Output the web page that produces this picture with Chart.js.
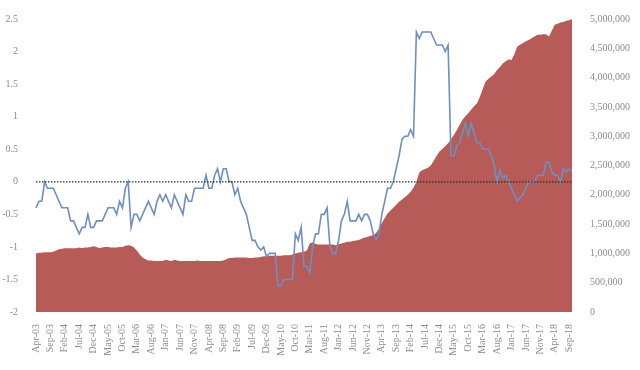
<!DOCTYPE html>
<html>
<head>
<meta charset="utf-8">
<script src="https://cdn.jsdelivr.net/npm/chart.js@4/dist/chart.umd.min.js"></script>
<style>
  html, body { margin: 0; padding: 0; background: #fff; }
  #wrap { width: 640px; height: 370px; }
</style>
</head>
<body>
<div id="wrap"><canvas id="myChart" width="640" height="370"></canvas></div>
<script>
// monthly data, Apr-03 .. Oct-18
var monthNames = ["Jan", "Feb", "Mar", "Apr", "May", "Jun", "Jul", "Aug", "Sep", "Oct", "Nov", "Dec"];
var startYear = 2003;
var startMonth = 3; // Apr
var labelEvery = 5;

// left axis series (blue line)
var spread = [
  -0.4, -0.3, -0.3, 0.0, -0.1, -0.1, -0.1, -0.2, -0.3, -0.4,
  -0.4, -0.4, -0.6, -0.6, -0.7, -0.8, -0.7, -0.7, -0.5, -0.7,
  -0.7, -0.6, -0.6, -0.6, -0.5, -0.4, -0.4, -0.4, -0.5, -0.3,
  -0.4, -0.1, 0.0, -0.7, -0.5, -0.5, -0.6, -0.5, -0.4, -0.3,
  -0.4, -0.5, -0.3, -0.2, -0.3, -0.2, -0.3, -0.4, -0.2, -0.3,
  -0.4, -0.5, -0.2, -0.3, -0.3, -0.1, -0.1, -0.1, -0.1, 0.1,
  -0.1, -0.1, 0.1, 0.2, 0.0, 0.2, 0.2, 0.0, 0.0, -0.2,
  -0.1, -0.3, -0.4, -0.5, -0.7, -0.9, -0.9, -1.0, -1.05, -1.0,
  -1.15, -1.1, -1.1, -1.1, -1.6, -1.6, -1.5, -1.5, -1.5, -1.5,
  -0.8, -0.9, -0.7, -1.3, -1.3, -1.4, -1.0, -0.8, -0.8, -0.5,
  -0.5, -0.4, -1.0, -1.1, -1.1, -0.9, -0.6, -0.5, -0.3, -0.6,
  -0.6, -0.6, -0.5, -0.6, -0.5, -0.5, -0.6, -0.8, -0.9, -0.8,
  -0.5, -0.3, -0.1, -0.1, 0.0, 0.2, 0.4, 0.65, 0.7, 0.7,
  0.8, 0.7, 2.3, 2.2, 2.3, 2.3, 2.3, 2.3, 2.2, 2.1,
  2.1, 2.1, 2.0, 2.1, 0.4, 0.4, 0.55, 0.6, 0.75, 0.9,
  0.7, 0.9, 0.75, 0.6, 0.6, 0.5, 0.5, 0.5, 0.4, 0.25,
  0.0, 0.18, 0.05, 0.1, 0.0, -0.1, -0.2, -0.3, -0.25, -0.2,
  -0.1, 0.0, 0.0, 0.0, 0.1, 0.1, 0.1, 0.3, 0.3, 0.15,
  0.1, 0.1, 0.0, 0.2, 0.15, 0.2, 0.15
];

// right axis series (red area), in millions
var holdings = [
  1.00, 1.01, 1.01, 1.02, 1.02, 1.02, 1.03, 1.05, 1.07, 1.08,
  1.09, 1.09, 1.09, 1.09, 1.09, 1.10, 1.09, 1.10, 1.10, 1.11,
  1.12, 1.11, 1.09, 1.10, 1.11, 1.11, 1.10, 1.10, 1.10, 1.11,
  1.11, 1.13, 1.14, 1.13, 1.10, 1.05, 0.98, 0.93, 0.90, 0.88,
  0.88, 0.87, 0.87, 0.87, 0.87, 0.89, 0.88, 0.87, 0.89, 0.88,
  0.87, 0.87, 0.87, 0.87, 0.87, 0.87, 0.88, 0.87, 0.87, 0.87,
  0.87, 0.87, 0.87, 0.87, 0.87, 0.88, 0.90, 0.92, 0.92, 0.93,
  0.93, 0.93, 0.93, 0.93, 0.92, 0.92, 0.93, 0.93, 0.94, 0.95,
  0.95, 0.96, 0.96, 0.96, 0.96, 0.96, 0.97, 0.97, 0.97, 0.98,
  1.00, 1.01, 1.02, 1.03, 1.05, 1.17, 1.19, 1.16, 1.15, 1.15,
  1.15, 1.15, 1.15, 1.15, 1.14, 1.16, 1.17, 1.18, 1.20, 1.20,
  1.21, 1.22, 1.23, 1.25, 1.27, 1.28, 1.30, 1.31, 1.35, 1.42,
  1.52, 1.60, 1.68, 1.73, 1.78, 1.83, 1.88, 1.92, 1.96, 2.00,
  2.05, 2.12, 2.22, 2.38, 2.42, 2.44, 2.46, 2.50, 2.58, 2.66,
  2.74, 2.78, 2.83, 2.88, 2.95, 3.02, 3.10, 3.19, 3.28, 3.34,
  3.39, 3.45, 3.51, 3.56, 3.67, 3.80, 3.93, 3.98, 4.02, 4.06,
  4.13, 4.18, 4.24, 4.28, 4.31, 4.30, 4.40, 4.53, 4.56, 4.59,
  4.62, 4.64, 4.67, 4.70, 4.73, 4.73, 4.74, 4.74, 4.70, 4.80,
  4.90, 4.92, 4.94, 4.95, 4.97, 4.98, 5.00
];

var leftTicks = [-2, -1.5, -1, -0.5, 0, 0.5, 1, 1.5, 2, 2.5];

var months = [];
for (var i = 0; i < spread.length; i++) {
  var m = (startMonth + i) % 12;
  var y = startYear + Math.floor((startMonth + i) / 12);
  months.push(monthNames[m] + "-" + String(y % 100).padStart(2, "0"));
}

var tickFont = { family: "'Liberation Serif', 'DejaVu Serif', serif", size: 10 };
var tickColor = "#8c8c8c";

// dotted line at zero on left axis
var zeroLine = {
  id: "zeroLine",
  afterDatasetsDraw: function(chart) {
    var ctx = chart.ctx;
    var area = chart.chartArea;
    var yPos = chart.scales.y.getPixelForValue(0);
    ctx.save();
    ctx.strokeStyle = "#2b2b2b";
    ctx.lineWidth = 1.3;
    ctx.setLineDash([1.5, 1.5]);
    ctx.beginPath();
    ctx.moveTo(area.left, yPos);
    ctx.lineTo(area.right, yPos);
    ctx.stroke();
    ctx.restore();
  }
};

var ctx = document.getElementById("myChart").getContext("2d");
new Chart(ctx, {
  type: "line",
  data: {
    labels: months,
    datasets: [
      {
        data: spread,
        yAxisID: "y",
        borderColor: "#6f8fc0",
        borderWidth: 1.6,
        pointRadius: 0,
        fill: false,
        tension: 0,
        order: 0
      },
      {
        data: holdings,
        yAxisID: "y1",
        borderColor: "#b65b57",
        backgroundColor: "#b65b57",
        borderWidth: 0,
        pointRadius: 0,
        fill: "origin",
        tension: 0,
        order: 1
      }
    ]
  },
  options: {
    responsive: false,
    animation: false,
    layout: { padding: { top: 19, left: 0, right: 0, bottom: 0 } },
    plugins: {
      legend: { display: false },
      tooltip: { enabled: false }
    },
    scales: {
      x: {
        grid: { display: false },
        border: { display: false },
        afterFit: function(scale) { scale.height = 58; },
        ticks: {
          autoSkip: false,
          maxRotation: 90,
          minRotation: 90,
          padding: 4,
          color: tickColor,
          font: tickFont,
          callback: function(val, idx) {
            return idx % labelEvery === 0 ? months[idx] : null;
          }
        }
      },
      y: {
        position: "left",
        min: -2,
        max: 2.5,
        grid: { display: false },
        border: { display: false },
        afterFit: function(scale) { scale.width = 36; },
        afterBuildTicks: function(scale) {
          scale.ticks = leftTicks.map(function(v) { return { value: v }; });
        },
        ticks: {
          padding: 10,
          color: tickColor,
          font: tickFont,
          callback: function(v) { return String(v); }
        }
      },
      y1: {
        position: "right",
        min: 0,
        max: 5,
        grid: { display: false },
        border: { display: false },
        afterFit: function(scale) { scale.width = 68; },
        ticks: {
          stepSize: 0.5,
          padding: 10,
          color: tickColor,
          font: tickFont,
          callback: function(v) {
            return Math.round(v * 1000000).toLocaleString("en-US");
          }
        }
      }
    }
  },
  plugins: [zeroLine]
});
</script>
</body>
</html>
